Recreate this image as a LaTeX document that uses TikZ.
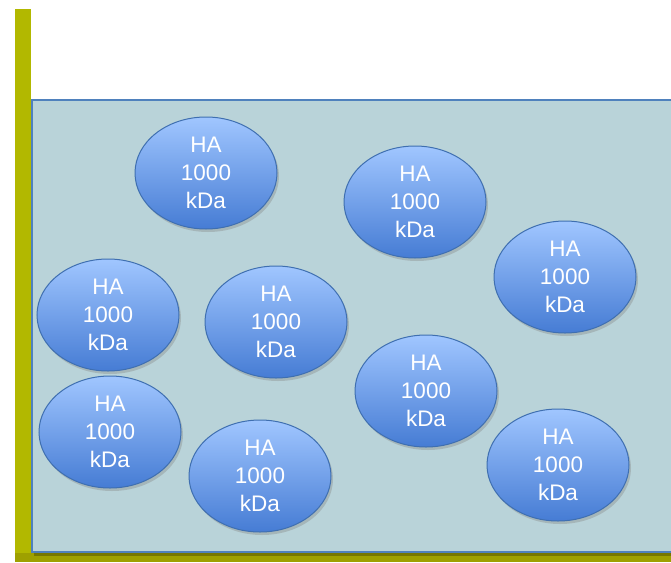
\documentclass[tikz,border=0pt]{standalone}
\usepackage{fontspec}
\setmainfont{Liberation Sans}
\usetikzlibrary{shapes.geometric,shadows}
\definecolor{olivebar}{HTML}{B2B800}
\definecolor{olivedark}{HTML}{9EA000}
\definecolor{panel}{HTML}{B9D3D9}
\definecolor{panelborder}{HTML}{4F81BD}
\definecolor{elltop}{HTML}{A0C6FF}
\definecolor{ellbot}{HTML}{467CD4}
\definecolor{ellborder}{HTML}{3F6FB0}
\tikzset{
  ha/.style={ellipse, minimum width=142pt, minimum height=112pt, inner sep=0pt,
    top color=elltop, bottom color=ellbot, draw=ellborder, line width=1pt,
    drop shadow={shadow xshift=2pt, shadow yshift=-3pt, opacity=0.35},
    text=white, align=center, font=\fontsize{22.5}{28}\selectfont}
}
\begin{document}
\begin{tikzpicture}[x=1pt,y=-1pt]
\useasboundingbox (0,0) rectangle (671,562);
% olive frame
\fill[olivebar] (15,9) rectangle (31,562);
\fill[olivedark] (15,553) rectangle (671,562);
% panel
\fill[black,opacity=0.25] (34,103) rectangle (675,556);
\filldraw[fill=panel, draw=panelborder, line width=1.2pt] (32,100) rectangle (675,552);
% ellipses
\node[ha] (e1) at (206,173) {HA\\1000\\kDa};
\node[ha] (e2) at (415,202) {HA\\1000\\kDa};
\node[ha] (e3) at (565,277) {HA\\1000\\kDa};
\node[ha] (e4) at (108,315) {HA\\1000\\kDa};
\node[ha] (e5) at (276,322) {HA\\1000\\kDa};
\node[ha] (e6) at (426,391) {HA\\1000\\kDa};
\node[ha] (e7) at (110,432) {HA\\1000\\kDa};
\node[ha] (e8) at (260,476) {HA\\1000\\kDa};
\node[ha] (e9) at (558,465) {HA\\1000\\kDa};
\end{tikzpicture}
\end{document}
